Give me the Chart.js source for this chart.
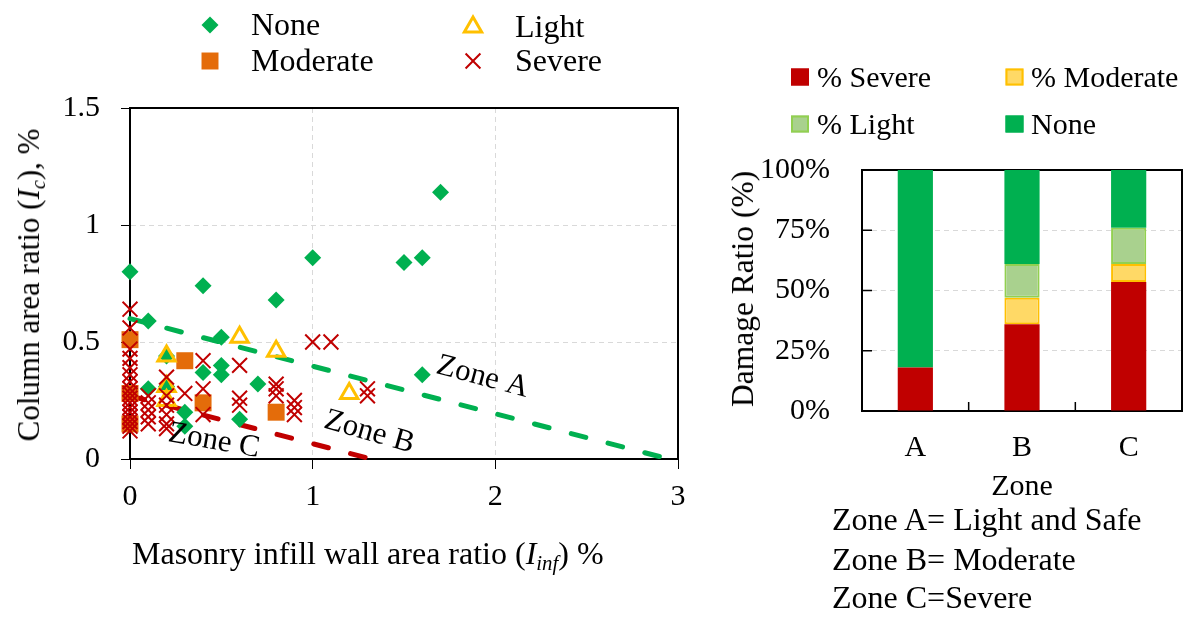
<!DOCTYPE html>
<html>
<head>
<meta charset="utf-8">
<script src="https://cdn.jsdelivr.net/npm/chart.js@4.4.0/dist/chart.umd.min.js"></script>
<style>
    body { margin: 0; background: #fff; }
    #wrap { position: relative; width: 1195px; height: 618px; overflow: hidden;
            font-family: "Liberation Serif", "Times New Roman", serif; color: #000; }
    canvas { position: absolute; top: 0; }
    .txt { position: absolute; font-size: 32px; line-height: 32px; white-space: nowrap; }
    .rot { transform: translate(-50%, -50%) rotate(-90deg); }
    .ctr { transform: translate(-50%, -50%); }
    sub { font-size: 0.65em; line-height: 0; vertical-align: -0.28em; }
</style>
</head>
<body>
<div id="wrap">
    <canvas id="scatterChart" width="700" height="618" style="left:0"></canvas>
    <canvas id="barChart" width="495" height="618" style="left:700px"></canvas>

    <div class="txt rot" style="left:29px; top:285px; font-size:31px">Column area ratio (<i>I<sub>c</sub></i>), %</div>
    <div class="txt" style="left:132px; top:537px">Masonry infill wall area ratio (<i>I<sub>inf</sub></i>) %</div>
    <div class="txt rot" style="left:743px; top:289px; font-size:31.5px">Damage Ratio (%)</div>
    <div class="txt ctr" style="left:1022px; top:485px; font-size:30px">Zone</div>
    <div class="txt" style="left:832px; top:503px">Zone A= Light and Safe</div>
    <div class="txt" style="left:832px; top:543px">Zone B= Moderate</div>
    <div class="txt" style="left:832px; top:581px">Zone C=Severe</div>
</div>
<script>
// ---- Data: scatter (x = masonry infill wall ratio %, y = column area ratio %)
const nonePts = [
    [0, 0.80], [0.1, 0.59], [0.4, 0.74], [0.8, 0.68], [1.0, 0.86], [1.5, 0.84],
    [1.6, 0.86], [1.7, 1.14], [0.5, 0.52], [0.5, 0.40], [0.5, 0.36], [0.7, 0.32],
    [1.6, 0.36], [0.2, 0.44], [0.4, 0.37], [0.6, 0.17], [0.1, 0.30], [0.2, 0.31],
    [0.3, 0.20], [0.3, 0.14]
];
const lightPts = [
    [0.2, 0.44], [0.6, 0.52], [0.8, 0.46], [1.2, 0.28], [0.2, 0.31], [0.2, 0.25]
];
const moderatePts = [
    [0, 0.51], [0, 0.28], [0, 0.15], [0.3, 0.42], [0.4, 0.24], [0.8, 0.20]
];
const severePts = [
    [0, 0.64], [0, 0.56], [0, 0.47], [0, 0.43], [0, 0.39], [0, 0.36], [0, 0.33],
    [0, 0.30], [0, 0.28], [0, 0.26], [0, 0.24], [0, 0.22], [0, 0.20], [0, 0.18],
    [0, 0.16], [0, 0.14], [0, 0.12],
    [0.1, 0.27], [0.1, 0.24], [0.1, 0.21], [0.1, 0.18], [0.1, 0.15],
    [0.2, 0.35], [0.2, 0.27], [0.2, 0.23], [0.2, 0.19], [0.2, 0.15], [0.2, 0.13],
    [0.3, 0.28],
    [0.4, 0.42], [0.4, 0.30], [0.4, 0.19],
    [0.6, 0.40], [0.6, 0.26], [0.6, 0.23],
    [0.8, 0.32], [0.8, 0.30], [0.8, 0.27],
    [0.9, 0.25], [0.9, 0.22], [0.9, 0.19],
    [1.0, 0.50], [1.1, 0.50],
    [1.3, 0.30], [1.3, 0.27]
];
// zone boundary lines (end points)
const zoneALine = [[0, 0.60], [2.95, 0]];
const zoneCLine = [[0, 0.27], [1.32, 0]];

// ---- Data: stacked bar (damage ratio per zone)
const zones = ['A', 'B', 'C'];
const severePct = [18, 36, 53.5];
const moderatePct = [0, 11, 7.5];
const lightPct = [0, 14, 15];
const nonePct = [82, 39, 24];

const FONT = '"Liberation Serif", "Times New Roman", serif';
Chart.defaults.font.family = FONT;
Chart.defaults.color = '#000';

const toPts = arr => arr.map(p => ({ x: p[0], y: p[1] }));

// Marker styles (shared by datasets and legend)
const styles = {
    none: { pointStyle: 'rectRot', radius: 8.5, fill: '#00B050', stroke: '#00B050', lw: 0 },
    light: { pointStyle: 'triangle', radius: 10, fill: null, stroke: '#FFC000', lw: 3 },
    moderate: { pointStyle: 'rect', radius: 12, fill: '#E46C0A', stroke: '#E46C0A', lw: 0 },
    severe: { pointStyle: 'crossRot', radius: 10.5, fill: null, stroke: '#C00000', lw: 2 }
};

function pointDataset(label, pts, s) {
    return {
        label: label,
        data: toPts(pts),
        pointStyle: s.pointStyle,
        pointRadius: s.radius,
        pointBorderWidth: s.lw,
        pointBorderColor: s.stroke,
        pointBackgroundColor: s.fill || 'rgba(0,0,0,0)',
        clip: false
    };
}

function lineDataset(pts, color) {
    return {
        data: toPts(pts),
        showLine: true,
        pointRadius: 0,
        borderColor: color,
        borderWidth: 5,
        borderDash: [15, 23],
        borderCapStyle: 'round',
        clip: false
    };
}

// Draw a legend marker like Chart.js does
function drawMarker(ctx, s, x, y) {
    const r = s.radius;
    ctx.save();
    ctx.beginPath();
    if (s.pointStyle === 'rectRot') {
        ctx.moveTo(x - r, y); ctx.lineTo(x, y - r); ctx.lineTo(x + r, y); ctx.lineTo(x, y + r);
        ctx.closePath();
    } else if (s.pointStyle === 'rect') {
        const h = r * Math.SQRT1_2;
        ctx.rect(x - h, y - h, 2 * h, 2 * h);
    } else if (s.pointStyle === 'triangle') {
        for (let k = 0; k < 3; k++) {
            const a = k * 2 * Math.PI / 3;
            const px = x + Math.sin(a) * r, py = y - Math.cos(a) * r;
            if (k === 0) ctx.moveTo(px, py); else ctx.lineTo(px, py);
        }
        ctx.closePath();
    } else if (s.pointStyle === 'crossRot') {
        const h = r * Math.SQRT1_2;
        ctx.moveTo(x - h, y - h); ctx.lineTo(x + h, y + h);
        ctx.moveTo(x + h, y - h); ctx.lineTo(x - h, y + h);
    }
    if (s.fill) { ctx.fillStyle = s.fill; ctx.fill(); }
    if (s.lw) { ctx.lineWidth = s.lw; ctx.strokeStyle = s.stroke; ctx.stroke(); }
    ctx.restore();
}

// Frame round the plot area (drawn before the points so markers sit on top)
function framePlugin(innerTicks) {
    return {
        id: 'frame',
        beforeDatasetsDraw(chart) {
            const { ctx, chartArea: a } = chart;
            ctx.save();
            ctx.strokeStyle = '#000';
            ctx.lineWidth = 2;
            ctx.strokeRect(a.left, a.top, a.right - a.left, a.bottom - a.top);
            if (innerTicks) {
                const xs = chart.scales.x, ys = chart.scales.y;
                ctx.lineWidth = 1.5;
                ctx.beginPath();
                ys.ticks.forEach(t => {
                    if (t.value <= ys.min || t.value >= ys.max) return;
                    const py = ys.getPixelForValue(t.value);
                    ctx.moveTo(a.left, py); ctx.lineTo(a.left + 10, py);
                });
                for (let i = 1; i < zones.length; i++) {
                    const px = (xs.getPixelForValue(i - 1) + xs.getPixelForValue(i)) / 2;
                    ctx.moveTo(px, a.bottom); ctx.lineTo(px, a.bottom - 9);
                }
                ctx.stroke();
            }
            ctx.restore();
        }
    };
}

// Rotated zone labels placed in data coordinates
const zoneLabels = [
    { text: 'Zone A', x: 1.93, y: 0.35, angle: 15 },
    { text: 'Zone B', x: 1.31, y: 0.115, angle: 16 },
    { text: 'Zone C', x: 0.46, y: 0.077, angle: 10 }
];
const zoneLabelPlugin = {
    id: 'zoneLabels',
    afterDatasetsDraw(chart) {
        const { ctx, scales: { x, y } } = chart;
        zoneLabels.forEach(it => {
            ctx.save();
            ctx.translate(x.getPixelForValue(it.x), y.getPixelForValue(it.y));
            ctx.rotate(it.angle * Math.PI / 180);
            ctx.font = '31px ' + FONT;
            ctx.fillStyle = '#000';
            ctx.textAlign = 'center';
            ctx.textBaseline = 'middle';
            ctx.fillText(it.text, 0, 0);
            ctx.restore();
        });
    }
};

// Scatter legend (two columns)
const scatterLegend = [
    { text: 'None', style: styles.none, mx: 210, tx: 251, y: 25 },
    { text: 'Light', style: styles.light, mx: 473, tx: 515, y: 27 },
    { text: 'Moderate', style: styles.moderate, mx: 210, tx: 251, y: 61 },
    { text: 'Severe', style: styles.severe, mx: 473, tx: 515, y: 61 }
];
const scatterLegendPlugin = {
    id: 'scatterLegend',
    afterDraw(chart) {
        const ctx = chart.ctx;
        scatterLegend.forEach(it => {
            drawMarker(ctx, it.style, it.mx, it.y);
            ctx.save();
            ctx.font = '32px ' + FONT;
            ctx.fillStyle = '#000';
            ctx.textBaseline = 'alphabetic';
            ctx.fillText(it.text, it.tx, it.y + 10);
            ctx.restore();
        });
    }
};

// Setup scatter chart
const scatterChart = new Chart(document.getElementById('scatterChart'), {
    type: 'scatter',
    data: {
        datasets: [
            pointDataset('Severe', severePts, styles.severe),
            pointDataset('Light', lightPts, styles.light),
            pointDataset('None', nonePts, styles.none),
            pointDataset('Moderate', moderatePts, styles.moderate),
            lineDataset(zoneALine, '#00B050'),
            lineDataset(zoneCLine, '#C00000')
        ]
    },
    options: {
        responsive: false,
        animation: false,
        events: [],
        layout: { padding: { left: 0, right: 22, top: 108, bottom: 0 } },
        plugins: { legend: { display: false }, tooltip: { enabled: false } },
        scales: {
            x: {
                type: 'linear', min: 0, max: 3,
                ticks: { stepSize: 1, padding: 10, font: { size: 30 }, callback: v => String(v) },
                grid: { color: '#D9D9D9', tickColor: '#000', tickLength: 10, lineWidth: 1 },
                border: { color: '#000', width: 2, dash: [5, 4] },
                afterFit(s) { s.height = 159; s.paddingLeft = 0; s.paddingRight = 0; }
            },
            y: {
                min: 0, max: 1.5,
                ticks: { stepSize: 0.5, padding: 21, font: { size: 30 }, callback: v => String(v) },
                grid: { color: '#D9D9D9', tickColor: '#000', tickLength: 9, lineWidth: 1 },
                border: { color: '#000', width: 2, dash: [5, 4] },
                afterFit(s) { s.width = 130; s.paddingTop = 0; s.paddingBottom = 0; }
            }
        }
    },
    plugins: [framePlugin(false), zoneLabelPlugin, scatterLegendPlugin]
});

// Bar legend (two columns, filled boxes)
const barLegend = [
    { text: '% Severe', fill: '#C00000', stroke: '#C00000', bx: 100, tx: 117, y: 77 },
    { text: '% Moderate', fill: '#FFD966', stroke: '#FFC000', bx: 314.5, tx: 331, y: 77 },
    { text: '% Light', fill: '#A9D18E', stroke: '#92D050', bx: 100, tx: 117, y: 124 },
    { text: 'None', fill: '#00B050', stroke: '#00B050', bx: 314.5, tx: 331, y: 124 }
];
const barLegendPlugin = {
    id: 'barLegend',
    afterDraw(chart) {
        const ctx = chart.ctx;
        barLegend.forEach(it => {
            ctx.save();
            ctx.fillStyle = it.fill;
            ctx.strokeStyle = it.stroke;
            ctx.lineWidth = 2;
            ctx.fillRect(it.bx - 9, it.y - 8.5, 18, 17);
            ctx.strokeRect(it.bx - 8, it.y - 7.5, 16, 15);
            ctx.font = '30px ' + FONT;
            ctx.fillStyle = '#000';
            ctx.textBaseline = 'alphabetic';
            ctx.fillText(it.text, it.tx, it.y + 10);
            ctx.restore();
        });
    }
};

const barWidth = ctx => (ctx.raw ? 2 : 0);

const barChart = new Chart(document.getElementById('barChart'), {
    type: 'bar',
    data: {
        labels: zones,
        datasets: [
            { label: '% Severe', data: severePct, backgroundColor: '#C00000', borderWidth: 0 },
            { label: '% Moderate', data: moderatePct, backgroundColor: '#FFD966', borderColor: '#FFC000', borderWidth: barWidth, borderSkipped: false },
            { label: '% Light', data: lightPct, backgroundColor: '#A9D18E', borderColor: '#92D050', borderWidth: barWidth, borderSkipped: false },
            { label: 'None', data: nonePct, backgroundColor: '#00B050', borderWidth: 0 }
        ]
    },
    options: {
        responsive: false,
        animation: false,
        events: [],
        layout: { padding: { left: 0, right: 13, top: 170, bottom: 0 } },
        datasets: { bar: { barPercentage: 0.33, categoryPercentage: 1 } },
        plugins: { legend: { display: false }, tooltip: { enabled: false } },
        scales: {
            x: {
                stacked: true,
                ticks: { padding: 11, font: { size: 30 } },
                grid: { display: false },
                border: { color: '#000', width: 2 },
                afterFit(s) { s.height = 207; s.paddingLeft = 0; s.paddingRight = 0; }
            },
            y: {
                stacked: true, min: 0, max: 100,
                ticks: { stepSize: 25, padding: 32, font: { size: 30 }, callback: v => v + '%' },
                grid: { color: '#D9D9D9', drawTicks: false, lineWidth: 1 },
                border: { color: '#000', width: 2, dash: [5, 4] },
                afterFit(s) { s.width = 162; s.paddingTop = 0; s.paddingBottom = 0; }
            }
        }
    },
    plugins: [framePlugin(true), barLegendPlugin]
});
</script>
</body>
</html>
